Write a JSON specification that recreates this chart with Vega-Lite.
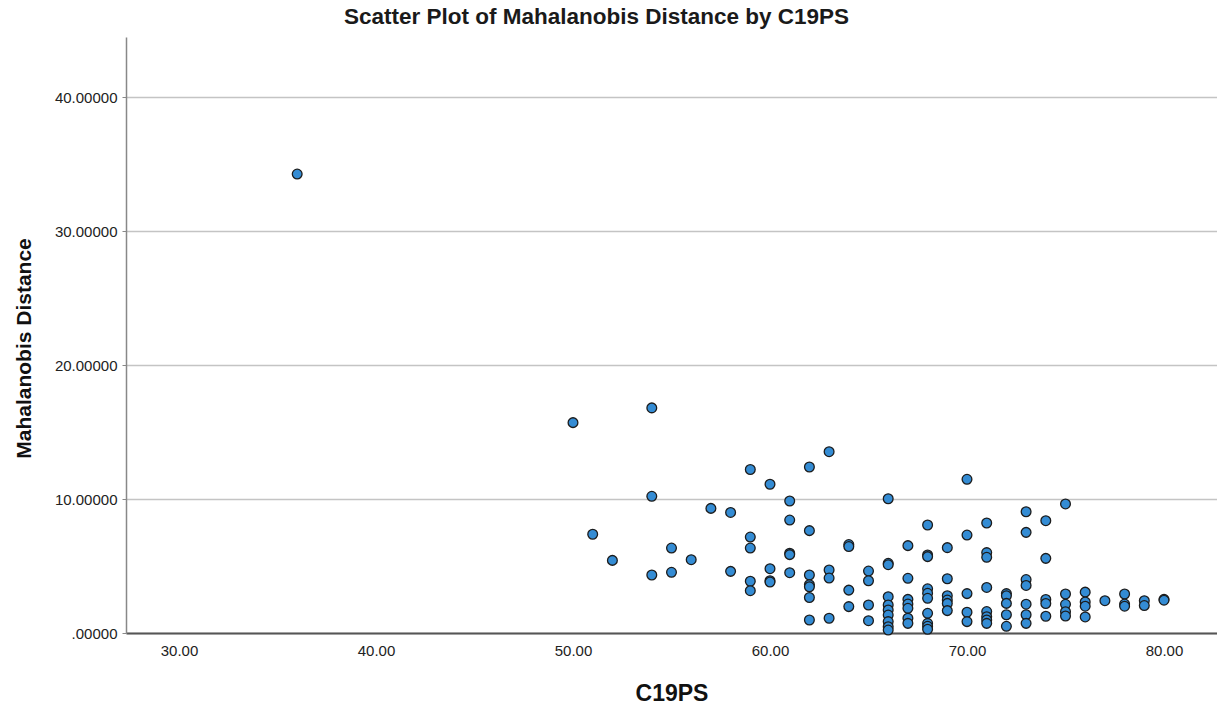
{
  "$schema": "https://vega.github.io/schema/vega-lite/v6.json",
  "width": 1091,
  "height": 596,
  "autosize": {"type": "none"},
  "padding": {"left": 126, "top": 37, "right": 0, "bottom": 73},
  "background": "white",
  "title": {
    "text": "Scatter Plot of Mahalanobis Distance by C19PS",
    "anchor": "middle",
    "frame": "group",
    "dx": -75,
    "offset": 9,
    "font": "Liberation Sans",
    "fontSize": 22.5,
    "fontWeight": "bold",
    "color": "#1a1a1a"
  },
  "config": {
    "view": {"stroke": null},
    "axis": {"labelFont": "Liberation Sans", "titleFont": "Liberation Sans", "labelColor": "#222222", "titleColor": "#111111"}
  },
  "data": {
    "values": [
      {"C19PS": 36, "MD": 34.25},
      {"C19PS": 50, "MD": 15.7},
      {"C19PS": 51, "MD": 7.37},
      {"C19PS": 52, "MD": 5.42},
      {"C19PS": 54, "MD": 16.8}, {"C19PS": 54, "MD": 10.2}, {"C19PS": 54, "MD": 4.33},
      {"C19PS": 55, "MD": 6.34}, {"C19PS": 55, "MD": 4.53},
      {"C19PS": 56, "MD": 5.47},
      {"C19PS": 57, "MD": 9.3},
      {"C19PS": 58, "MD": 9.0}, {"C19PS": 58, "MD": 4.6},
      {"C19PS": 59, "MD": 12.2}, {"C19PS": 59, "MD": 7.16}, {"C19PS": 59, "MD": 6.34}, {"C19PS": 59, "MD": 3.86}, {"C19PS": 59, "MD": 3.16},
      {"C19PS": 60, "MD": 11.1}, {"C19PS": 60, "MD": 4.8}, {"C19PS": 60, "MD": 3.9}, {"C19PS": 60, "MD": 3.8},
      {"C19PS": 61, "MD": 9.85}, {"C19PS": 61, "MD": 8.43}, {"C19PS": 61, "MD": 5.95}, {"C19PS": 61, "MD": 5.85}, {"C19PS": 61, "MD": 4.5},
      {"C19PS": 62, "MD": 12.39}, {"C19PS": 62, "MD": 7.64}, {"C19PS": 62, "MD": 4.33}, {"C19PS": 62, "MD": 3.6}, {"C19PS": 62, "MD": 3.45}, {"C19PS": 62, "MD": 2.65}, {"C19PS": 62, "MD": 0.97},
      {"C19PS": 63, "MD": 13.53}, {"C19PS": 63, "MD": 4.7}, {"C19PS": 63, "MD": 4.1}, {"C19PS": 63, "MD": 1.1},
      {"C19PS": 64, "MD": 6.6}, {"C19PS": 64, "MD": 6.45}, {"C19PS": 64, "MD": 3.2}, {"C19PS": 64, "MD": 1.97},
      {"C19PS": 65, "MD": 4.62}, {"C19PS": 65, "MD": 3.9}, {"C19PS": 65, "MD": 2.09}, {"C19PS": 65, "MD": 0.92},
      {"C19PS": 66, "MD": 10.02}, {"C19PS": 66, "MD": 5.2}, {"C19PS": 66, "MD": 5.1}, {"C19PS": 66, "MD": 2.71}, {"C19PS": 66, "MD": 2.09}, {"C19PS": 66, "MD": 1.72}, {"C19PS": 66, "MD": 1.34}, {"C19PS": 66, "MD": 0.85}, {"C19PS": 66, "MD": 0.47}, {"C19PS": 66, "MD": 0.22},
      {"C19PS": 67, "MD": 6.52}, {"C19PS": 67, "MD": 4.08}, {"C19PS": 67, "MD": 2.51}, {"C19PS": 67, "MD": 2.16}, {"C19PS": 67, "MD": 1.84}, {"C19PS": 67, "MD": 1.1}, {"C19PS": 67, "MD": 0.72},
      {"C19PS": 68, "MD": 8.06}, {"C19PS": 68, "MD": 5.82}, {"C19PS": 68, "MD": 5.7}, {"C19PS": 68, "MD": 3.3}, {"C19PS": 68, "MD": 2.96}, {"C19PS": 68, "MD": 2.59}, {"C19PS": 68, "MD": 1.47}, {"C19PS": 68, "MD": 0.72}, {"C19PS": 68, "MD": 0.5}, {"C19PS": 68, "MD": 0.28},
      {"C19PS": 69, "MD": 6.37}, {"C19PS": 69, "MD": 4.05}, {"C19PS": 69, "MD": 2.78}, {"C19PS": 69, "MD": 2.46}, {"C19PS": 69, "MD": 2.21}, {"C19PS": 69, "MD": 1.67},
      {"C19PS": 70, "MD": 11.47}, {"C19PS": 70, "MD": 7.31}, {"C19PS": 70, "MD": 2.94}, {"C19PS": 70, "MD": 1.55}, {"C19PS": 70, "MD": 0.85},
      {"C19PS": 71, "MD": 8.21}, {"C19PS": 71, "MD": 6.0}, {"C19PS": 71, "MD": 5.65}, {"C19PS": 71, "MD": 3.4}, {"C19PS": 71, "MD": 1.6}, {"C19PS": 71, "MD": 1.22}, {"C19PS": 71, "MD": 0.97}, {"C19PS": 71, "MD": 0.72},
      {"C19PS": 72, "MD": 2.94}, {"C19PS": 72, "MD": 2.78}, {"C19PS": 72, "MD": 2.21}, {"C19PS": 72, "MD": 1.36}, {"C19PS": 72, "MD": 0.5},
      {"C19PS": 73, "MD": 9.05}, {"C19PS": 73, "MD": 7.51}, {"C19PS": 73, "MD": 3.99}, {"C19PS": 73, "MD": 3.55}, {"C19PS": 73, "MD": 2.15}, {"C19PS": 73, "MD": 1.36}, {"C19PS": 73, "MD": 0.72},
      {"C19PS": 74, "MD": 8.38}, {"C19PS": 74, "MD": 5.57}, {"C19PS": 74, "MD": 2.5}, {"C19PS": 74, "MD": 2.2}, {"C19PS": 74, "MD": 1.25},
      {"C19PS": 75, "MD": 9.63}, {"C19PS": 75, "MD": 2.91}, {"C19PS": 75, "MD": 2.14}, {"C19PS": 75, "MD": 1.59}, {"C19PS": 75, "MD": 1.27},
      {"C19PS": 76, "MD": 3.05}, {"C19PS": 76, "MD": 2.32}, {"C19PS": 76, "MD": 2.0}, {"C19PS": 76, "MD": 1.2},
      {"C19PS": 77, "MD": 2.41},
      {"C19PS": 78, "MD": 2.91}, {"C19PS": 78, "MD": 2.16}, {"C19PS": 78, "MD": 2.0},
      {"C19PS": 79, "MD": 2.41}, {"C19PS": 79, "MD": 2.05},
      {"C19PS": 80, "MD": 2.51}, {"C19PS": 80, "MD": 2.45}
    ]
  },
  "mark": {"type": "point", "shape": "circle", "filled": true, "size": 95, "fill": "#348cd4", "stroke": "#1c1c1c", "strokeWidth": 1.3, "opacity": 1},
  "encoding": {
    "x": {
      "field": "C19PS",
      "type": "quantitative",
      "scale": {"domain": [27.31, 82.69], "nice": false, "zero": false},
      "axis": {
        "title": "C19PS",
        "titleFontSize": 23,
        "titleFontWeight": "bold",
        "titlePadding": 24,
        "values": [30, 40, 50, 60, 70, 80],
        "format": ".2f",
        "labelFontSize": 15,
        "labelPadding": 10,
        "ticks": false,
        "grid": false,
        "domainColor": "#555555",
        "domainWidth": 2
      }
    },
    "y": {
      "field": "MD",
      "type": "quantitative",
      "scale": {"domain": [0, 44.48], "nice": false, "zero": true},
      "axis": {
        "title": "Mahalanobis Distance",
        "titleFontSize": 21,
        "titleFontWeight": "bold",
        "titlePadding": 20,
        "titleY": 311,
        "values": [0, 10, 20, 30, 40],
        "labelExpr": "datum.value == 0 ? '.00000' : format(datum.value, '.5f')",
        "labelFontSize": 15,
        "labelPadding": 5,
        "tickSize": 4,
        "tickColor": "#888888",
        "grid": true,
        "gridColor": "#c4c4c4",
        "gridWidth": 1.5,
        "domainColor": "#888888",
        "domainWidth": 1.5
      }
    }
  }
}
